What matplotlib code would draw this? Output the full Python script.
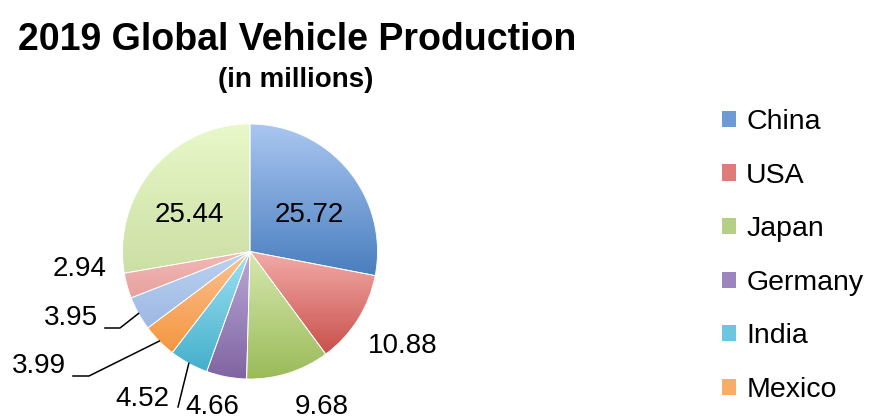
import numpy as np
import matplotlib
matplotlib.use("Agg")
import matplotlib.pyplot as plt
from matplotlib.colors import to_rgb
from matplotlib.patches import Rectangle

plt.rcParams['font.family'] = ['Liberation Sans', 'DejaVu Sans']

# data (millions of vehicles, 2019)
countries = ['China', 'USA', 'Japan', 'Germany', 'India', 'Mexico',
             'South Korea', 'Brazil', 'Others']
production = [25.72, 10.88, 9.68, 4.66, 4.52, 3.99, 3.95, 2.94, 25.44]
legend_shown = 6

# gradient colours per slice: (top, bottom)
grad_top = ['#A9C6F0', '#F2ABA8', '#D6E8B0', '#BBA9D8', '#9FE2F4', '#FBC293',
            '#BCD2F0', '#F4B9B6', '#E8F8C9']
grad_bot = ['#4A7EBF', '#C9504B', '#9BBB59', '#8064A2', '#45AFCB', '#F5963F',
            '#9CB8E3', '#E6A19E', '#CCDFA4']
legend_col = ['#6E9AD6', '#DD7C78', '#B5D083', '#9C85BE', '#6CC6DE', '#F8AC68']

W, H = 869, 420
CX, CY, R = 250, 251.5, 127.5


def px(x, y):
    # pixel position -> data coords (pie radius = 1)
    return (x - CX) / R, (CY - y) / R


fig = plt.figure(figsize=(W / 100, H / 100), dpi=100)
ax = fig.add_axes([0, 0, 1, 1])

wedges, _ = ax.pie(production, startangle=90, counterclock=False, radius=1,
                   wedgeprops=dict(linewidth=0.6, edgecolor='white'))
ax.set_xlim(-CX / R, (W - CX) / R)
ax.set_ylim((CY - H) / R, CY / R)
ax.set_aspect('auto')
ax.axis('off')

for w, c1, c2 in zip(wedges, grad_top, grad_bot):
    bb = w.get_path().get_extents(w.get_patch_transform())
    t = np.linspace(0, 1, 64)[:, None]
    grad = (1 - t) * np.array(to_rgb(c1)) + t * np.array(to_rgb(c2))
    im = ax.imshow(grad[:, None, :], extent=(bb.x0, bb.x1, bb.y0, bb.y1),
                   origin='upper', aspect='auto', interpolation='bilinear',
                   zorder=1)
    im.set_clip_path(w)
    w.set_facecolor('none')
    w.set_zorder(2)

# data labels (pixel positions of label centres)
label_pos = [(309, 215), (403, 346), (322, 407), (212, 407), (142, 399),
             (39, 366), (71, 318), (80, 269), (189, 215)]
for v, (lx, ly) in zip(production, label_pos):
    x, y = px(lx, ly)
    ax.text(x, y, f'{v:.2f}', fontsize=20, ha='center', va='center', zorder=5)

# leader lines: slice index -> elbow points (pixels)
leaders = {6: [(120, 328), (105, 328)],
           5: [(89, 376), (73, 376)],
           4: [(178, 407)]}
for i, pts in leaders.items():
    w = wedges[i]
    mid = np.deg2rad((w.theta1 + w.theta2) / 2)
    xs = [np.cos(mid)] + [px(*p)[0] for p in pts]
    ys = [np.sin(mid)] + [px(*p)[1] for p in pts]
    ax.plot(xs, ys, color='black', lw=1.1, zorder=4, clip_on=False)

# title
fig.text(297 / W, 1 - 40 / H, '2019 Global Vehicle Production', fontsize=27,
         fontweight='bold', ha='center', va='center')
fig.text(296 / W, 1 - 80 / H, '(in millions)', fontsize=20,
         fontweight='bold', ha='center', va='center')

# legend (only the first entries fit in the frame)
handles = [Rectangle((0, 0), 1, 1, facecolor=c) for c in legend_col[:legend_shown]]
fig.legend(handles, countries[:legend_shown], loc='upper left',
           bbox_to_anchor=(722 / W, 1 - 109 / H), fontsize=20.5, frameon=False,
           borderpad=0, borderaxespad=0, handlelength=0.5, handleheight=0.5,
           handletextpad=0.35, labelspacing=0.97)

fig.savefig('out.png', dpi=100)
